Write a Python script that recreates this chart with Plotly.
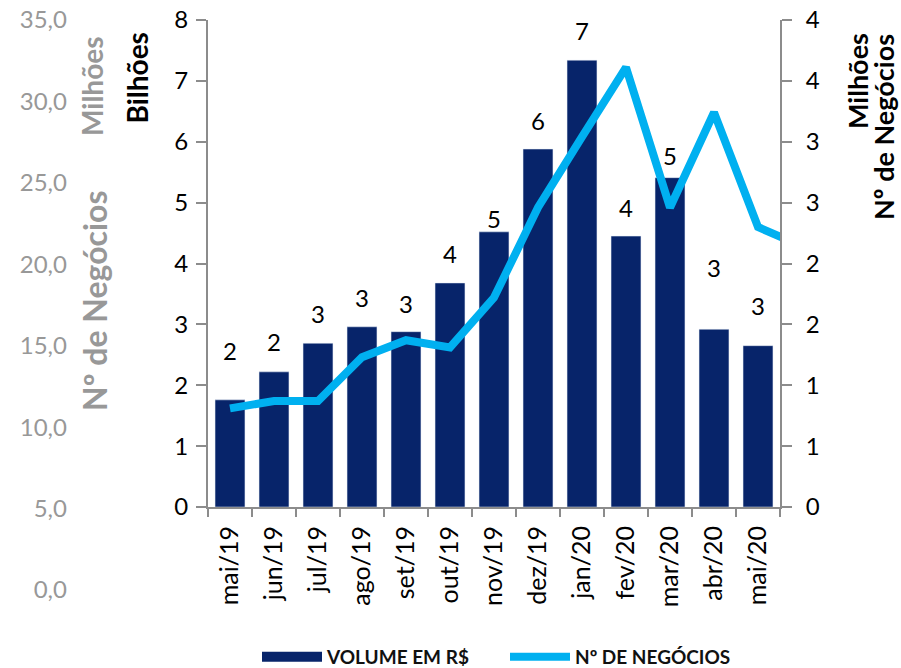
import plotly.graph_objects as go

# ---------------- data ----------------
categories = ["mai/19", "jun/19", "jul/19", "ago/19", "set/19", "out/19", "nov/19",
              "dez/19", "jan/20", "fev/20", "mar/20", "abr/20", "mai/20"]
volume_bilhoes = [1.76, 2.22, 2.69, 2.96, 2.88, 3.68, 4.52, 5.88, 7.34, 4.45, 5.41, 2.92, 2.65]

negocios_categories = categories + ["jun/20"]
negocios_milhoes = [0.81, 0.87, 0.87, 1.23, 1.37, 1.31, 1.72, 2.46, 3.04, 3.61, 2.46, 3.24, 2.30, 2.14]

left_tickvals = [0, 1, 2, 3, 4, 5, 6, 7, 8]
right_tickvals = [0, 0.5, 1, 1.5, 2, 2.5, 3, 3.5, 4]
right_ticktext = ["0", "1", "1", "2", "2", "3", "3", "4", "4"]
gray_tickvals = [0, 5, 10, 15, 20, 25, 30, 35]
gray_ticktext = ["0,0", "5,0", "10,0", "15,0", "20,0", "25,0", "30,0", "35,0"]

# ---------------- style ----------------
FONT = "Lato"
NAVY = "#07246A"
BLUE = "#00B0F0"
AXIS_GRAY = "#8C8C8C"
LABEL_GRAY = "#989898"
label_yshift = [33, 14, 13, 13, 12, 13, -3, 12, 13, 12, 6, 45, 24]

# page body margin is removed (post_script), so figure fills the window
OFF = 0
W, H = 901 - OFF, 668 - OFF
# plot area in window pixels: x 72..780, y 20..590
ML, MT = 72 - OFF, 20 - OFF
MR, MB = W - (780 - OFF), H - (590 - OFF)
PW, PH = W - ML - MR, H - MT - MB


def px_x(px):
    return (px - OFF - ML) / PW


def px_y(py):
    return (H - MB - (py - OFF)) / PH


fig = go.Figure()

# hidden helper trace so the gray axis gets drawn (added first -> bottom layer)
fig.add_trace(go.Scatter(x=[None], y=[None], xaxis="x2", yaxis="y3",
                         showlegend=False, hoverinfo="skip"))

fig.add_trace(go.Bar(
    x=categories, y=volume_bilhoes, marker_color=NAVY, showlegend=False,
    name="VOLUME EM R$", xaxis="x", yaxis="y"))

fig.add_trace(go.Scatter(
    x=[None], y=[None], mode="lines", line=dict(color=NAVY, width=12),
    name="<b>VOLUME EM R$</b>", xaxis="x", yaxis="y", hoverinfo="skip"))

fig.add_trace(go.Scatter(
    x=negocios_categories, y=negocios_milhoes, mode="lines",
    line=dict(color=BLUE, width=8), name="<b>Nº DE NEGÓCIOS</b>",
    xaxis="x", yaxis="y2"))

annotations = []
for i, (c, v) in enumerate(zip(categories, volume_bilhoes)):
    annotations.append(dict(
        x=c, y=v, xref="x", yref="y", text=f"{v:.0f}", showarrow=False,
        yanchor="bottom", xanchor="center", yshift=label_yshift[i],
        font=dict(family=FONT, size=24, color="#000000")))

annotations += [
    dict(text="<b>Bilhões</b>", textangle=-90, x=px_x(137), y=px_y(31),
         xref="paper", yref="paper", xanchor="center", yanchor="top",
         showarrow=False, font=dict(family=FONT, size=28, color="#000000")),
    dict(text="<b>Milhões</b>", textangle=-90, x=px_x(858), y=px_y(31),
         xref="paper", yref="paper", xanchor="center", yanchor="top",
         showarrow=False, font=dict(family=FONT, size=27, color="#000000")),
    dict(text="<b>Nº de Negócios</b>", textangle=-90, x=px_x(884), y=px_y(32),
         xref="paper", yref="paper", xanchor="center", yanchor="top",
         showarrow=False, font=dict(family=FONT, size=27, color="#000000")),
    dict(text="<b>Milhões</b>", textangle=-90, x=px_x(92), y=px_y(87),
         xref="paper", yref="paper", xanchor="center", yanchor="middle",
         showarrow=False, font=dict(family=FONT, size=28, color=LABEL_GRAY)),
    dict(text="<b>Nº de Negócios</b>", textangle=-90, x=px_x(94), y=px_y(301),
         xref="paper", yref="paper", xanchor="center", yanchor="middle",
         showarrow=False, font=dict(family=FONT, size=32, color=LABEL_GRAY)),
]

fig.update_layout(
    width=W, height=H,
    margin=dict(l=ML, r=MR, t=MT, b=MB, pad=0, autoexpand=False),
    paper_bgcolor="white", plot_bgcolor="rgba(0,0,0,0)",
    font=dict(family=FONT, color="#000000"),
    bargap=0.32,
    showlegend=True,
    legend=dict(orientation="h", x=px_x(257), y=px_y(657), xanchor="left",
                yanchor="middle", font=dict(family=FONT, size=19, color="#111111"),
                bgcolor="rgba(0,0,0,0)", itemwidth=60, entrywidth=173),
    annotations=annotations,
    xaxis=dict(domain=[px_x(208), 1], anchor="y", type="category",
               categoryorder="array", categoryarray=categories,
               range=[-0.5, 12.5], showline=True, linecolor=AXIS_GRAY, linewidth=2,
               ticks="outside", tickson="boundaries", ticklen=8, tickcolor=AXIS_GRAY,
               tickwidth=2, tickangle=-90, showgrid=False, zeroline=False,
               ticklabelstandoff=7, ticklabeloverflow="allow",
               tickfont=dict(family=FONT, size=25, color="#000000")),
    yaxis=dict(domain=[px_y(507), 1], anchor="x", range=[0, 8], tickvals=left_tickvals,
               showline=True, linecolor=AXIS_GRAY, linewidth=2, ticks="outside",
               ticklen=10, tickcolor=AXIS_GRAY, tickwidth=2, showgrid=False,
               zeroline=False, ticklabelstandoff=3, ticklabeloverflow="allow",
               tickfont=dict(family=FONT, size=24, color="#000000")),
    yaxis2=dict(overlaying="y", side="right", anchor="x", range=[0, 4],
                tickvals=right_tickvals, ticktext=right_ticktext,
                showline=True, linecolor=AXIS_GRAY, linewidth=2, ticks="outside",
                ticklen=10, tickcolor=AXIS_GRAY, tickwidth=2, showgrid=False,
                zeroline=False, ticklabelstandoff=9, ticklabeloverflow="allow",
                tickfont=dict(family=FONT, size=24, color="#000000")),
    xaxis2=dict(domain=[0, 1], anchor="y3", range=[0, 1], visible=False),
    yaxis3=dict(domain=[0, 1], anchor="x2", side="left", range=[0, 35],
                tickvals=gray_tickvals, ticktext=gray_ticktext, showline=False,
                ticks="", showgrid=False, zeroline=False, ticklabelstandoff=4,
                ticklabeloverflow="allow",
                tickfont=dict(family=FONT, size=24, color=LABEL_GRAY)),
)

fig.write_html("out.html",
               config={"displayModeBar": False},
               post_script="document.body.style.margin='0px';"
                           "document.body.style.padding='0px';")
